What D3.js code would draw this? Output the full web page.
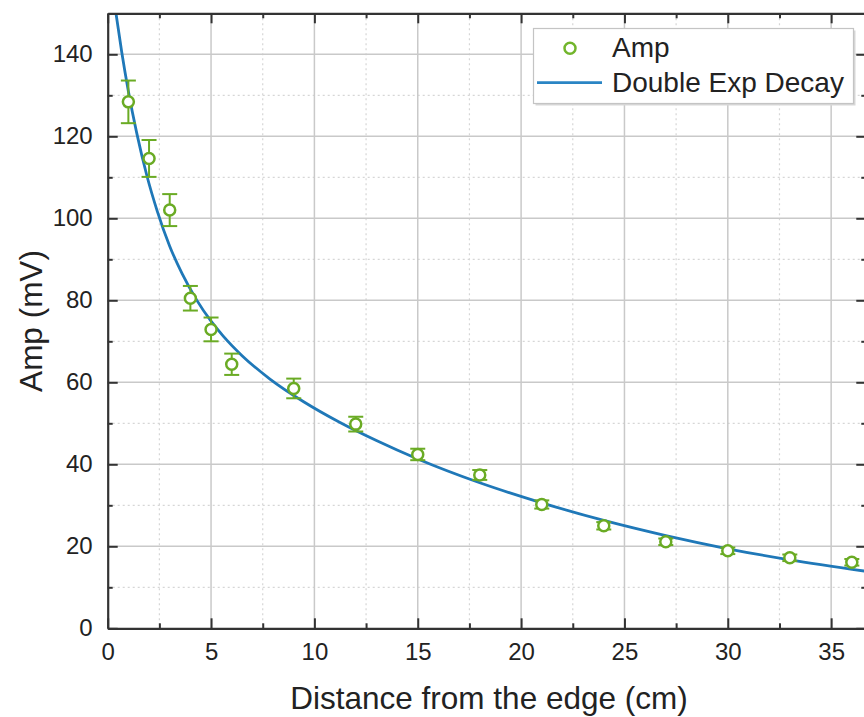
<!DOCTYPE html>
<html>
<head>
<meta charset="utf-8">
<script src="https://cdn.jsdelivr.net/npm/d3@7"></script>
<style>
  html, body { margin: 0; padding: 0; background: #fff; }
  svg { display: block; font-family: "Liberation Sans", Arial, Helvetica, sans-serif; }
</style>
</head>
<body>
<svg id="chart" width="864" height="717"></svg>
<script>
// ---- data ----
const distances = [1, 2, 3, 4, 5, 6, 9, 12, 15, 18, 21, 24, 27, 30, 33, 36];
const amps      = [128.4, 114.6, 102.0, 80.5, 72.9, 64.4, 58.5, 49.8, 42.4, 37.4, 30.2, 25.0, 21.1, 18.9, 17.2, 16.1];
const ampErr    = [5.2, 4.5, 3.9, 3.0, 2.9, 2.6, 2.4, 1.8, 1.4, 1.2, 1.0, 0.9, 0.8, 0.8, 0.8, 0.8];
// fitted curve (Double Exp Decay)
const fitX = [0.3, 0.4, 0.68, 1.0, 1.4, 1.89, 2.4, 3.0, 3.6, 4.3, 5.0, 5.6, 6.5, 7.85, 9.5, 11.24, 13, 15, 18, 21, 24, 27, 30, 33, 36.7];
const fitY = [153.6, 150.0, 140.5, 131.0, 120.9, 110.5, 101.7, 93.2, 86.5, 80.1, 74.9, 71.2, 66.5, 60.8, 55.2, 50.2, 45.8, 41.3, 35.5, 30.6, 26.3, 22.6, 19.4, 16.7, 13.9];
const xTicks = [0, 5, 10, 15, 20, 25, 30, 35];
const xMinor = [2.5, 7.5, 12.5, 17.5, 22.5, 27.5, 32.5];
const yTicks = [0, 20, 40, 60, 80, 100, 120, 140];
const yMinor = [10, 30, 50, 70, 90, 110, 130];
const xTitle = "Distance from the edge (cm)";
const yTitle = "Amp (mV)";
const legendLabels = ["Amp", "Double Exp Decay"];

// ---- layout ----
const svg = d3.select("#chart");
const L = 107.7, T = 13.3, B = 628.3;
const x = d3.scaleLinear().domain([0, 36.7]).range([L, L + 36.7 * 20.67]);
const y = d3.scaleLinear().domain([0, 150]).range([B, T]);
const R = x(36.7);
const green = "#6aab24";
const blue = "#1f78b8";
const axisColor = "#333";

// grid
const grid = svg.append("g");
grid.selectAll(".gxm").data(xMinor).join("line")
  .attr("x1", d => x(d)).attr("x2", d => x(d)).attr("y1", T).attr("y2", B)
  .attr("stroke", "#d6d6d6").attr("stroke-width", 1.2).attr("stroke-dasharray", "2,3");
grid.selectAll(".gym").data(yMinor).join("line")
  .attr("y1", d => y(d)).attr("y2", d => y(d)).attr("x1", L).attr("x2", R)
  .attr("stroke", "#d6d6d6").attr("stroke-width", 1.2).attr("stroke-dasharray", "2,3");
grid.selectAll(".gx").data(xTicks.slice(1)).join("line")
  .attr("x1", d => x(d)).attr("x2", d => x(d)).attr("y1", T).attr("y2", B)
  .attr("stroke", "#c9c9c9").attr("stroke-width", 1.5);
grid.selectAll(".gy").data(yTicks.slice(1)).join("line")
  .attr("y1", d => y(d)).attr("y2", d => y(d)).attr("x1", L).attr("x2", R)
  .attr("stroke", "#c9c9c9").attr("stroke-width", 1.5);

// fit curve
svg.append("clipPath").attr("id", "clip").append("rect")
  .attr("x", L).attr("y", T).attr("width", R - L).attr("height", B - T);
const fitData = fitX.map((d, i) => [d, fitY[i]]);
svg.append("path").datum(fitData)
  .attr("clip-path", "url(#clip)")
  .attr("fill", "none").attr("stroke", blue).attr("stroke-width", 2.8)
  .attr("d", d3.line().x(d => x(d[0])).y(d => y(d[1])).curve(d3.curveMonotoneX));

// error bars + markers
const pts = distances.map((d, i) => ({ x: d, y: amps[i], e: ampErr[i] }));
const eb = svg.append("g").attr("stroke", green).attr("stroke-width", 2);
eb.selectAll(".v").data(pts).join("line")
  .attr("x1", d => x(d.x)).attr("x2", d => x(d.x))
  .attr("y1", d => y(d.y + d.e)).attr("y2", d => y(d.y - d.e));
eb.selectAll(".t").data(pts).join("line")
  .attr("x1", d => x(d.x) - 7.5).attr("x2", d => x(d.x) + 7.5)
  .attr("y1", d => y(d.y + d.e)).attr("y2", d => y(d.y + d.e));
eb.selectAll(".b").data(pts).join("line")
  .attr("x1", d => x(d.x) - 7.5).attr("x2", d => x(d.x) + 7.5)
  .attr("y1", d => y(d.y - d.e)).attr("y2", d => y(d.y - d.e));
svg.append("g").selectAll("circle").data(pts).join("circle")
  .attr("cx", d => x(d.x)).attr("cy", d => y(d.y)).attr("r", 5.5)
  .attr("fill", "#fff").attr("stroke", green).attr("stroke-width", 2.5);

// axes
function styleAxis(g) {
  g.selectAll(".domain").attr("stroke", axisColor).attr("stroke-width", 2.2);
  g.selectAll(".tick line").attr("stroke", axisColor).attr("stroke-width", 2);
  g.selectAll("text").attr("fill", "#222").attr("font-size", 24)
    .attr("font-family", "'Liberation Sans', Arial, sans-serif");
}
// bottom
svg.append("g").attr("transform", `translate(0,${B})`)
  .call(d3.axisBottom(x).tickValues(xTicks).tickSizeInner(-10).tickSizeOuter(0).tickPadding(15).tickFormat(d3.format("d")))
  .call(styleAxis);
svg.append("g").attr("transform", `translate(0,${B})`)
  .call(d3.axisBottom(x).tickValues(xMinor).tickSize(-5).tickFormat(""))
  .call(g => g.select(".domain").remove()).call(styleAxis);
// top
svg.append("g").attr("transform", `translate(0,${T})`)
  .call(d3.axisTop(x).tickValues(xTicks).tickSizeInner(-10).tickSizeOuter(0).tickFormat(""))
  .call(styleAxis);
svg.append("g").attr("transform", `translate(0,${T})`)
  .call(d3.axisTop(x).tickValues(xMinor).tickSize(-5).tickFormat(""))
  .call(g => g.select(".domain").remove()).call(styleAxis);
// left
svg.append("g").attr("transform", `translate(${L},0)`)
  .call(d3.axisLeft(y).tickValues(yTicks).tickSizeInner(-10).tickSizeOuter(0).tickPadding(15).tickFormat(d3.format("d")))
  .call(styleAxis);
svg.append("g").attr("transform", `translate(${L},0)`)
  .call(d3.axisLeft(y).tickValues(yMinor).tickSize(-5).tickFormat(""))
  .call(g => g.select(".domain").remove()).call(styleAxis);
// right
svg.append("g").attr("transform", `translate(${R},0)`)
  .call(d3.axisRight(y).tickValues(yTicks).tickSizeInner(-10).tickSizeOuter(0).tickFormat(""))
  .call(styleAxis);
svg.append("g").attr("transform", `translate(${R},0)`)
  .call(d3.axisRight(y).tickValues(yMinor).tickSize(-5).tickFormat(""))
  .call(g => g.select(".domain").remove()).call(styleAxis);

// titles
svg.append("text").attr("x", (288 + 690) / 2).attr("y", 709).attr("text-anchor", "middle")
  .attr("font-size", 31.5).attr("fill", "#222").text(xTitle);
svg.append("text").attr("transform", "translate(42,321) rotate(-90)").attr("text-anchor", "middle")
  .attr("font-size", 31.5).attr("fill", "#222").text(yTitle);

// legend
const lg = svg.append("g");
lg.append("rect").attr("x", 535.5).attr("y", 30.5).attr("width", 320).attr("height", 75)
  .attr("fill", "#d8d8d8");
lg.append("rect").attr("x", 533.5).attr("y", 28.5).attr("width", 320).attr("height", 75)
  .attr("fill", "#fff").attr("stroke", "#c4c4c4").attr("stroke-width", 1.2);
lg.append("circle").attr("cx", 570).attr("cy", 48.3).attr("r", 5.5)
  .attr("fill", "#fff").attr("stroke", "#72b52c").attr("stroke-width", 2.5);
lg.append("line").attr("x1", 537).attr("x2", 602).attr("y1", 82.7).attr("y2", 82.7)
  .attr("stroke", "#2a85c4").attr("stroke-width", 2.8);
lg.selectAll("text").data(legendLabels).join("text")
  .attr("x", 612).attr("y", (d, i) => i === 0 ? 57 : 92)
  .attr("font-size", 28).attr("fill", "#222").text(d => d);
</script>
</body>
</html>
